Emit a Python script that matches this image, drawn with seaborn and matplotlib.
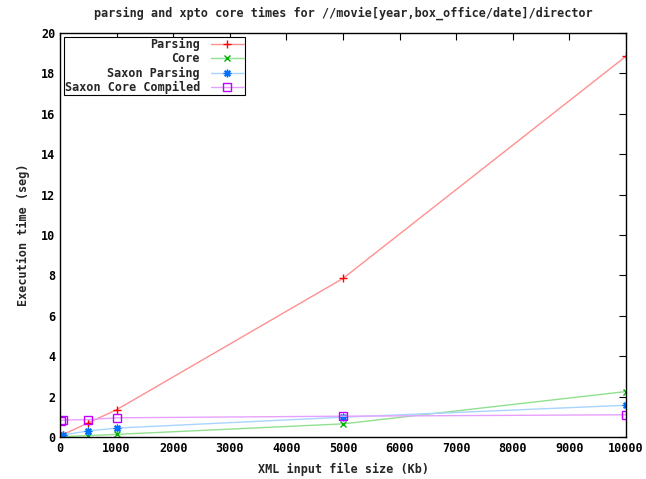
import matplotlib
matplotlib.use("Agg")
import matplotlib.pyplot as plt
import seaborn as sns
import pandas as pd
from matplotlib.lines import Line2D

sizes = [10, 50, 500, 1000, 5000, 10000]
parsing = [0.05, 0.12, 0.70, 1.35, 7.85, 18.85]
core = [0.01, 0.02, 0.07, 0.13, 0.65, 2.25]
saxon_parsing = [0.06, 0.10, 0.30, 0.44, 0.98, 1.57]
saxon_core = [0.80, 0.84, 0.86, 0.95, 1.03, 1.10]

series_names = ["Parsing", "Core", "Saxon Parsing", "Saxon Core Compiled"]
series_values = [parsing, core, saxon_parsing, saxon_core]

title = "parsing and xpto core times for //movie[year,box_office/date]/director"
xlabel = "XML input file size (Kb)"
ylabel = "Execution time (seg)"

sns.set_style("white")
plt.rcParams['font.family'] = ['DejaVu Sans Mono']
plt.rcParams['font.weight'] = 'bold'

fig = plt.figure(figsize=(6.46, 4.79), dpi=100)
ax = fig.add_axes([60/646, 1-437/479, 566/646, 404/479])

line_colors = ["#ff9090", "#90e090", "#a8d4ff", "#e8a0ff"]
mark_colors = ["#ff0000", "#00b000", "#0070ff", "#c000ff"]
markers = ["+", "x", (8, 2, 0), "s"]
msizes = [5.5, 4.5, 5.5, 5.5]

handles = []
for name, vals, lc, mc, mk, ms in zip(series_names, series_values, line_colors, mark_colors, markers, msizes):
    df = pd.DataFrame({"x": sizes, "y": vals})
    sns.lineplot(data=df, x="x", y="y", ax=ax, color=lc, linewidth=1.0,
                 marker=mk, markersize=ms, markeredgecolor=mc,
                 markerfacecolor="none", markeredgewidth=1.0)
    handles.append(Line2D([0], [0], color=lc, linewidth=1.0, marker=mk,
                          markersize=ms, markeredgecolor=mc,
                          markerfacecolor="none", markeredgewidth=1.0))

ax.set_xlim(0, 10000)
ax.set_ylim(0, 20)
ax.set_xticks(range(0, 10001, 1000))
ax.set_yticks(range(0, 21, 2))
ax.tick_params(direction="in", length=5, width=0.8, top=True, right=True,
               labelsize=8.5, colors="black")
for s in ax.spines.values():
    s.set_color("black")
    s.set_linewidth(1.0)
ax.set_title(title, fontsize=8.5, fontweight="bold", pad=12)
ax.set_xlabel(xlabel, fontsize=8.5, fontweight="bold", labelpad=6)
ax.set_ylabel(ylabel, fontsize=8.5, fontweight="bold", labelpad=8)

leg = ax.legend(handles, series_names, loc="upper left", markerfirst=False,
                fontsize=8.5, frameon=True, fancybox=False, framealpha=1,
                edgecolor="black", borderpad=0.1, labelspacing=0.12,
                handlelength=2.8, borderaxespad=0.3, handletextpad=0.9)
leg.get_frame().set_linewidth(0.8)

fig.savefig("out.png", dpi=100)
